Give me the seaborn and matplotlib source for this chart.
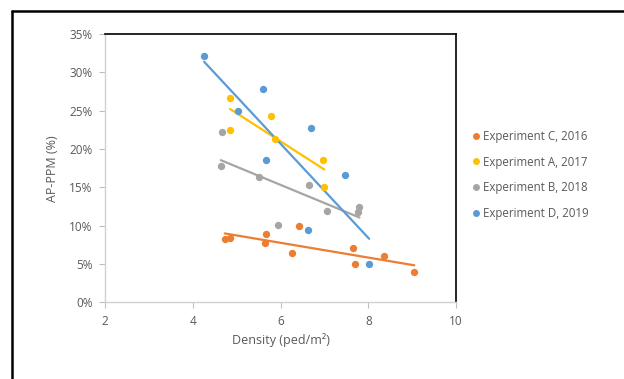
import numpy as np
import pandas as pd
import matplotlib
matplotlib.use("Agg")
import matplotlib.pyplot as plt
from matplotlib.lines import Line2D
from matplotlib.ticker import FuncFormatter
import seaborn as sns

sns.set_theme(style="white")
plt.rcParams['font.family'] = ['Open Sans', 'DejaVu Sans']

series_names = ["Experiment C, 2016", "Experiment A, 2017", "Experiment B, 2018", "Experiment D, 2019"]
series_colors = ["#ED7D31", "#FFC000", "#A5A5A5", "#5B9BD5"]

c_x = [4.73, 4.85, 5.68, 5.64, 6.27, 6.42, 7.66, 7.69, 8.36, 9.05]
c_y = [8.3, 8.4, 8.9, 7.7, 6.4, 9.9, 7.1, 5.0, 6.0, 3.9]

a_x = [4.85, 4.85, 5.79, 5.88, 6.98, 7.00]
a_y = [26.6, 22.5, 24.3, 21.3, 18.6, 15.1]

b_x = [4.67, 4.64, 5.52, 5.94, 6.64, 7.06, 7.80, 7.77]
b_y = [22.2, 17.8, 16.3, 10.1, 15.3, 11.9, 12.4, 11.8]

d_x = [4.26, 5.03, 5.60, 5.67, 6.69, 7.46, 6.62, 8.02]
d_y = [32.1, 25.0, 27.8, 18.6, 22.7, 16.6, 9.5, 5.0]

x_ticks = [2, 4, 6, 8, 10]
y_ticks = [0, 5, 10, 15, 20, 25, 30, 35]

frames = []
for name, xs, ys in zip(series_names, [c_x, a_x, b_x, d_x], [c_y, a_y, b_y, d_y]):
    frames.append(pd.DataFrame({"density": xs, "ppm": ys, "series": name}))
df = pd.concat(frames, ignore_index=True)

fig = plt.figure(figsize=(6.24, 3.79), dpi=100)
ax = fig.add_axes([105/624, 1 - 302.4/379, 351/624, 268.4/379])

handles = []
for name, color in zip(series_names, series_colors):
    sub = df[df["series"] == name]
    sns.regplot(data=sub, x="density", y="ppm", ax=ax, ci=None, truncate=True,
                scatter_kws=dict(s=28, color=color, linewidths=0, alpha=1, zorder=3),
                line_kws=dict(color=color, lw=1.6, zorder=2))
    handles.append(Line2D([], [], marker="o", linestyle="none", markersize=5,
                          markerfacecolor=color, markeredgewidth=0, label=name))

ax.set_xlim(2, 10)
ax.set_ylim(0, 35)
ax.set_xticks(x_ticks)
ax.set_yticks(y_ticks)
ax.yaxis.set_major_formatter(FuncFormatter(lambda v, p: f"{int(v)}%"))
ax.tick_params(axis="both", which="both", direction="out", length=4, width=0.8,
               color="#BFBFBF", labelcolor="#595959", labelsize=8.5, pad=5,
               bottom=True, left=True)
ax.tick_params(axis="x", pad=5)
ax.set_xlabel("Density (ped/m²)", color="#595959", fontsize=9, labelpad=4)
ax.set_ylabel("AP-PPM (%)", color="#595959", fontsize=9, labelpad=7)

for s in ["left", "bottom"]:
    ax.spines[s].set_color("#D0D0D0")
    ax.spines[s].set_linewidth(1.0)
for s in ["top", "right"]:
    ax.spines[s].set_color("#000000")
    ax.spines[s].set_linewidth(1.2)
    ax.spines[s].set_visible(True)
ax.grid(False)

leg = fig.legend(handles=handles, loc="upper left", bbox_to_anchor=(466/624, 1 - 125/379),
                 frameon=False, fontsize=8.3, labelspacing=1.12, handletextpad=0.1,
                 handlelength=1.0, borderaxespad=0)
for t in leg.get_texts():
    t.set_color("#595959")

# outer frame (left and top edges)
fig.add_artist(Line2D([11.5/624, 11.5/624], [0, 1 - 10.5/379], transform=fig.transFigure, color="black", lw=1.8))
fig.add_artist(Line2D([11.5/624, 1], [1 - 10.5/379, 1 - 10.5/379], transform=fig.transFigure, color="black", lw=1.8))

fig.savefig("out.png", dpi=100)
